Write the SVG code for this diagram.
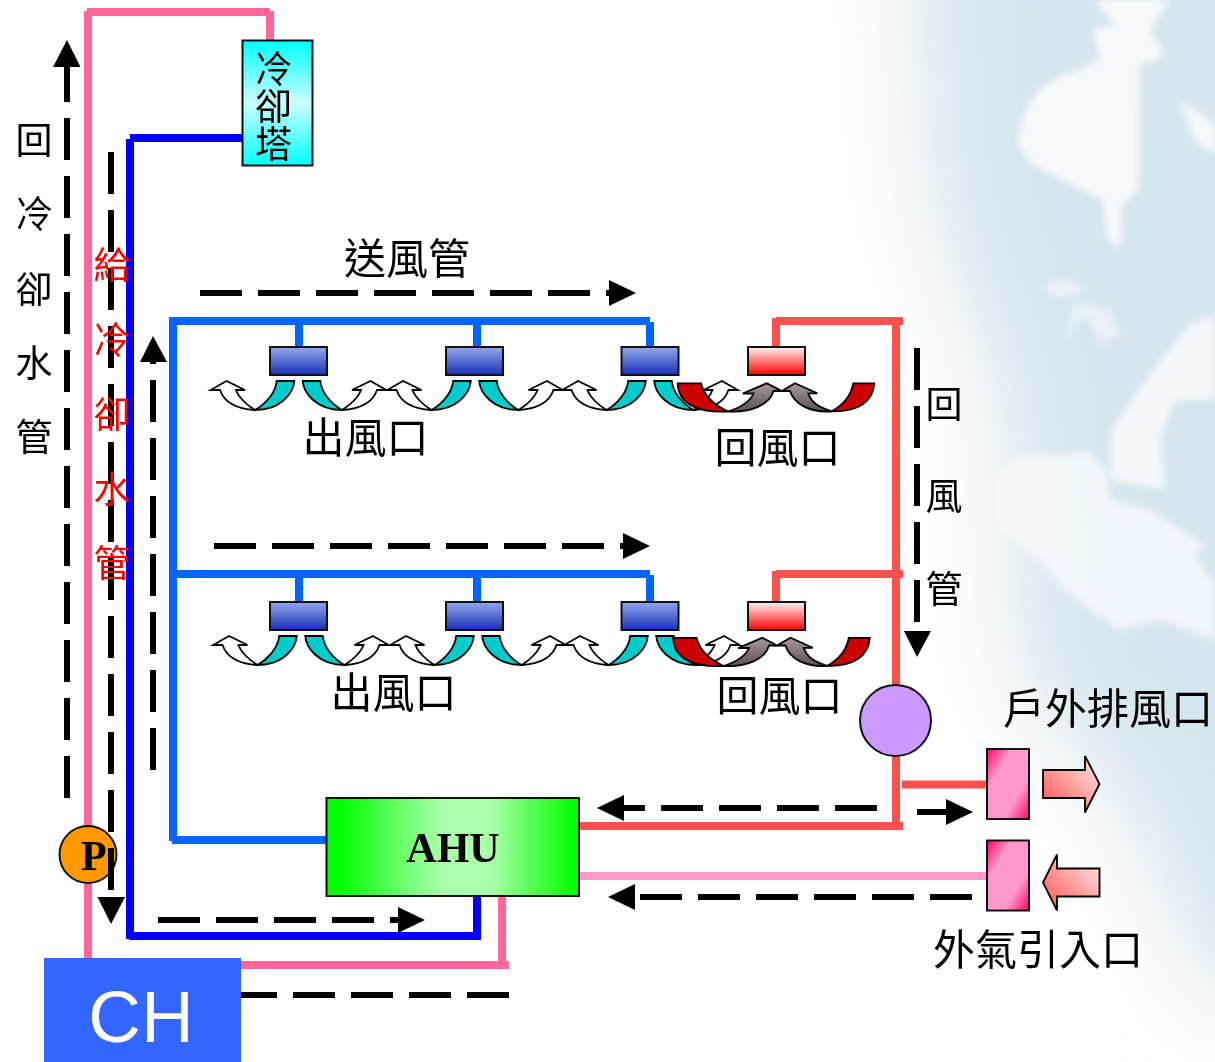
<svg xmlns="http://www.w3.org/2000/svg" width="1215" height="1062" viewBox="0 0 1215 1062">
<style>
text{font-family:"Noto Sans CJK TC","Liberation Sans",sans-serif;fill:#000}
.l{font-size:42px}
.v{font-size:37px;text-anchor:middle}
.p{fill:none;stroke-width:8}
.pk{stroke:#FF6699}.bl{stroke:#0000FF}.az{stroke:#0066FF}.rd{stroke:#FF5050}.lp{stroke:#FF99CC}
.d{fill:none;stroke:#000;stroke-width:6;stroke-dasharray:42 16}
.h{fill:#000}
.b{stroke:#111;stroke-width:2}
.c{stroke:#000;stroke-width:1.8;stroke-linejoin:miter}
.t{fill:#00CCCC}.w{fill:#fff}.r{fill:#CC0000}
.red{fill:#f00}
</style>
<defs>
<filter id="wide" filterUnits="userSpaceOnUse" x="600" y="-200" width="900" height="1500"><feGaussianBlur stdDeviation="45"/></filter>
<filter id="soft" filterUnits="userSpaceOnUse" x="900" y="-50" width="400" height="800"><feGaussianBlur stdDeviation="3.500"/></filter>
<linearGradient id="blue" x1="0" x2="0" y1="0" y2="1"><stop offset="0" stop-color="#94A8EC"/><stop offset="1" stop-color="#1A30B4"/></linearGradient>
<linearGradient id="red" x1="0" x2="0" y1="0" y2="1"><stop offset="0" stop-color="#FFF4F4"/><stop offset="1" stop-color="#FF0000"/></linearGradient>
<linearGradient id="cy" x1="0" x2="0" y1="0" y2="1"><stop offset="0" stop-color="#00FFFF"/><stop offset="0.5" stop-color="#CCFFFF"/><stop offset="1" stop-color="#00FFFF"/></linearGradient>
<linearGradient id="gr" x1="0" x2="1" y1="0" y2="0"><stop offset="0.05" stop-color="#00FF00"/><stop offset="0.45" stop-color="#AAFFAA"/><stop offset="0.65" stop-color="#AAFFAA"/><stop offset="0.98" stop-color="#00FF00"/></linearGradient>
<linearGradient id="box" x1="0" x2="1" y1="0" y2="1"><stop offset="0" stop-color="#FF0066"/><stop offset="0.3" stop-color="#FF99CC"/><stop offset="0.7" stop-color="#FF99CC"/><stop offset="1" stop-color="#FF0066"/></linearGradient>
<linearGradient id="ar1" x1="0" x2="1" y1="1" y2="0"><stop offset="0" stop-color="#FF5050"/><stop offset="1" stop-color="#FFEEEE"/></linearGradient>
<linearGradient id="gy" x1="0" x2="0" y1="0" y2="1"><stop offset="0" stop-color="#A89A9A"/><stop offset="1" stop-color="#5E5050"/></linearGradient>
<g id="curl">
<path class="c t" d="M-21.800 34H-4.200C-5 46-18 63-43.500 63C-33 57-23 46-21.800 34Z"/>
<path class="c w" d="M-43.500 63C-60 62-74 56-78.500 43H-87.800L-72 34-53.500 43H-62.500C-60 50-52 58-43.500 63Z"/>
<path class="c t" d="M21.800 34H4.200C5 46 18 63 43.500 63C33 57 23 46 21.800 34Z"/>
<path class="c w" d="M43.500 63C60 62 74 56 78.500 43H87.800L72 34 53.500 43H62.500C60 50 52 58 43.500 63Z"/>
</g>
<g id="ret">
<path class="c r" d="M677.700 383.300H701C704 396 714 405 728 411.500C700 413 678 405 677.700 383.300Z"/>
<path class="c" fill="url(#gy)" d="M728 411.500C742 407 750 402 753.500 393.500H742.700L766.700 383.300 781.700 391H773.500C770 404 752 413 728 411.500Z"/>
<path class="c r" d="M874.300 383.300H853.300C851 396 843 405 831.700 411.300C858 412 873 402 874.300 383.300Z"/>
<path class="c" fill="url(#gy)" d="M831.700 411.300C818 407 811 402 808.300 393.300H817.300L795 383.300 781.700 391H790C794 404 810 413 831.700 411.300Z"/>
</g>
</defs>
<g id="background">
<rect width="1215" height="1062" fill="#fff"/>
<path filter="url(#wide)" fill="#D6E6EE" d="M905 -150H1500V1000H1215L1120 800 1020 680 1000 400 930 200Z"/>
<g fill="#F7FAFC" filter="url(#soft)">
<path d="M1020 130C1025 100 1045 78 1075 72L1100 60 1093 30 1115 25 1095 0H1170L1150 30 1165 55 1140 65 1138 190 1122 205 1120 248 1108 240 1103 200 1060 178 1032 165 1018 145Z"/>
<path d="M1180 100 1215 125V155L1195 140Z"/>
<path d="M1043 290 1062 277 1087 290 1060 298Z" opacity=".7"/>
<path d="M1067 345 1072 305 1085 303 1110 310 1120 335 1100 345 1090 320 1078 320Z" opacity=".6"/>
<path d="M1153 370 1190 325 1215 315V400L1175 400 1160 440 1165 490 1110 480 1112 430Z" opacity=".9"/>
<path d="M1000 470 1020 455 1060 455 1090 452 1105 470 1112 500 1150 510 1205 545 1195 555 1215 585V640L1160 620 1120 630 1090 610 1065 590 1040 560 1000 530 993 500Z" opacity=".8"/>
</g>
</g>
<g id="connectors">
<line class="p pk" x1="88" y1="11" x2="88" y2="960"/>
<line class="p pk" x1="87" y1="12" x2="270" y2="12"/>
<line class="p pk" x1="270" y1="11" x2="270" y2="41"/>
<line class="p pk" x1="240" y1="965" x2="509" y2="965"/>
<line class="p pk" x1="502" y1="895" x2="502" y2="965"/>
<line class="p bl" x1="130" y1="138" x2="243" y2="138"/>
<line class="p bl" x1="130" y1="139" x2="130" y2="939"/>
<line class="p bl" x1="129" y1="936" x2="481" y2="936"/>
<line class="p bl" x1="477" y1="895" x2="477" y2="936"/>
<line class="p az" x1="173" y1="317" x2="173" y2="841"/>
<line class="p az" x1="172" y1="840" x2="328" y2="840"/>
<line class="p az" x1="172" y1="321" x2="650" y2="321"/>
<line class="p az" x1="650" y1="322" x2="650" y2="348"/>
<line class="p az" x1="299" y1="321" x2="299" y2="348"/>
<line class="p az" x1="477" y1="321" x2="477" y2="348"/>
<line class="p az" x1="172" y1="574" x2="650" y2="574"/>
<line class="p az" x1="650" y1="575" x2="650" y2="603"/>
<line class="p az" x1="299" y1="574" x2="299" y2="603"/>
<line class="p az" x1="477" y1="574" x2="477" y2="603"/>
<line class="p rd" x1="776" y1="321" x2="903" y2="321"/>
<line class="p rd" x1="776" y1="318" x2="776" y2="348"/>
<line class="p rd" x1="776" y1="574" x2="903" y2="574"/>
<line class="p rd" x1="776" y1="571" x2="776" y2="603"/>
<line class="p rd" x1="896" y1="321" x2="896" y2="826"/>
<line class="p rd" x1="578" y1="826" x2="903" y2="826"/>
<line class="p rd" x1="902" y1="784.500" x2="988" y2="784.500"/>
<line class="p lp" x1="578" y1="876" x2="988" y2="876"/>
</g>
<g id="tower"><rect class="b" x="242.500" y="40.500" width="70" height="125" fill="url(#cy)"/>
<text class="v" x="273.500" y="83">冷</text><text class="v" x="273.500" y="120">卻</text><text class="v" x="273.500" y="158">塔</text></g>
<g id="row1">
<rect class="b" x="270" y="347" width="57" height="28" fill="url(#blue)"/><rect class="b" x="446" y="347" width="57" height="28" fill="url(#blue)"/><rect class="b" x="621.500" y="347" width="57" height="28" fill="url(#blue)"/><rect class="b" x="748" y="347" width="57" height="28" fill="url(#red)"/>
<use href="#curl" x="298.500" y="347"/><use href="#curl" x="475" y="347"/><use href="#curl" x="650" y="347"/><use href="#ret"/>
</g>
<g id="row2">
<rect class="b" x="270" y="602" width="57" height="28" fill="url(#blue)"/><rect class="b" x="446" y="602" width="57" height="28" fill="url(#blue)"/><rect class="b" x="621.500" y="602" width="57" height="28" fill="url(#blue)"/><rect class="b" x="748" y="602" width="57" height="28" fill="url(#red)"/>
<use href="#curl" x="301" y="602"/><use href="#curl" x="478" y="602"/><use href="#curl" x="652" y="602"/><use href="#ret" x="-4.500" y="254.500"/>
</g>
<g id="fan"><circle class="b" cx="895.500" cy="720.500" r="35.500" fill="#CC99FF"/></g>
<g id="ahu"><rect class="b" x="326.500" y="798" width="252.500" height="98" fill="url(#gr)"/>
<text x="453" y="862" text-anchor="middle" style="font-family:'Liberation Serif',serif;font-weight:700;font-size:42px">AHU</text></g>
<g id="pump"><circle class="b" cx="88" cy="854.500" r="28.500" fill="#FF9900"/>
<text x="81" y="870" style="font-family:'Liberation Serif',serif;font-weight:700;font-size:42px">P</text></g>
<g id="exhaust"><rect class="b" x="987" y="749" width="42" height="70" fill="url(#box)"/>
<path class="c" fill="url(#ar1)" d="M1043 770H1085V756L1099.500 784 1085 812.500V798H1043Z"/></g>
<g id="intake"><rect class="b" x="987" y="840.500" width="42" height="70" fill="url(#box)"/>
<path class="c" fill="url(#ar1)" d="M1043 882.500 1057 854.500V868.500H1099.500V896.500H1057V910.500Z"/></g>
<g id="chiller"><rect x="44" y="958" width="197" height="104" fill="#3366FF"/></g>
<g id="flow">
<line class="d" x1="67" y1="60" x2="67" y2="800"/><path class="h" d="M67 40 80.500 67H53Z"/>
<line class="d" x1="111" y1="152" x2="111" y2="892"/><path class="h" d="M111 924 125 897H97.500Z"/>
<line class="d" x1="153" y1="770" x2="153" y2="360"/><path class="h" d="M153 336 167 362H140Z"/>
<line class="d" x1="200" y1="293" x2="612" y2="293"/><path class="h" d="M636 293 609 280V306Z"/>
<line class="d" x1="214" y1="546" x2="626" y2="546"/><path class="h" d="M650 546 623 533V559Z"/>
<line class="d" x1="917" y1="348" x2="917" y2="633"/><path class="h" d="M917 657 904 631H931Z"/>
<line class="d" x1="877" y1="808" x2="622" y2="808"/><path class="h" d="M597 808 624 795V821Z"/>
<line class="d" x1="917" y1="812" x2="948" y2="812"/><path class="h" d="M973 812 946 799V825Z"/>
<line class="d" x1="972" y1="897" x2="633" y2="897"/><path class="h" d="M608 897 635 884V910Z"/>
<line class="d" x1="158" y1="920" x2="400" y2="920"/><path class="h" d="M425 920 398 907V933Z"/>
<line class="d" x1="241" y1="995" x2="510" y2="995" stroke-dashoffset="6"/>
</g>
<text x="141" y="1042" text-anchor="middle" style="font-family:'Liberation Sans',sans-serif;font-size:73px;fill:#fff">CH</text>
<g id="labels">
<text class="l" x="344" y="274">送風管</text>
<text class="l" x="302.500" y="453">出風口</text>
<text class="l" x="714.500" y="463">回風口</text>
<text class="l" x="330.500" y="708">出風口</text>
<text class="l" x="716.500" y="711">回風口</text>
<text class="l" x="1003" y="724">戶外排風口</text>
<text class="l" x="933" y="965">外氣引入口</text>
<text class="v" x="34" y="154">回</text><text class="v" x="34" y="228">冷</text><text class="v" x="34" y="303">卻</text><text class="v" x="34" y="377">水</text><text class="v" x="34" y="451">管</text>
<text class="v red" x="112" y="279">給</text><text class="v red" x="112" y="354">冷</text><text class="v red" x="112" y="428">卻</text><text class="v red" x="112" y="503">水</text><text class="v red" x="112" y="577">管</text>
<text class="v" x="944" y="418">回</text><text class="v" x="944" y="510">風</text><text class="v" x="944" y="603">管</text>
</g>
</svg>
